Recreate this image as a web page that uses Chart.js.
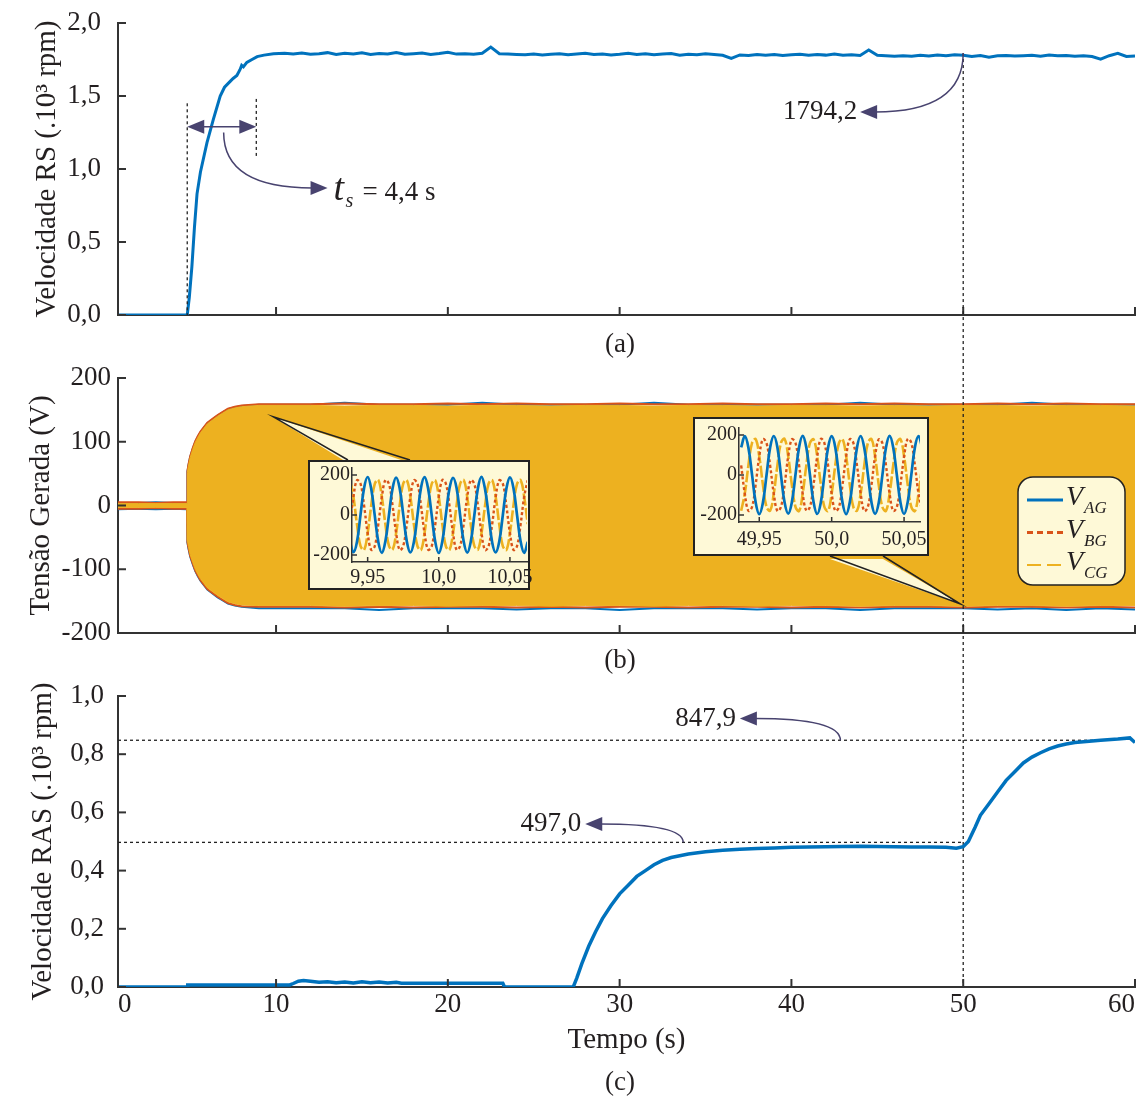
<!DOCTYPE html>
<html lang="pt">
<head>
<meta charset="utf-8">
<title>Velocidade RS, tensão gerada e velocidade RAS</title>
<script src="https://cdn.jsdelivr.net/npm/chart.js@4.4.1/dist/chart.umd.min.js"></script>
<style>
  html, body { margin: 0; padding: 0; background: #fff; }
  #page { position: relative; width: 1139px; height: 1101px; overflow: hidden; }
  #page canvas { position: absolute; }
  .box { position: absolute; box-sizing: border-box; border: 2px solid #222; background: #fef9d7; }
</style>
</head>
<body>
<div id="page">
  <canvas id="panelA" width="1139" height="360" style="left:0;top:0"></canvas>
  <canvas id="panelB" width="1139" height="320" style="left:0;top:360px"></canvas>
  <canvas id="panelC" width="1139" height="421" style="left:0;top:680px"></canvas>
  <div class="box" style="left:308px;top:460px;width:222px;height:130px"></div>
  <canvas id="zoom1" width="230" height="126" style="left:310px;top:462px"></canvas>
  <div class="box" style="left:693px;top:417px;width:236px;height:139px"></div>
  <canvas id="zoom2" width="246" height="135" style="left:695px;top:419px"></canvas>
</div>
<script>
// ---- data -------------------------------------------------------------

// shared time axis (s); the first tick sits at the axis start and reads "0"
const timeTickValues = [0.8, 10, 20, 30, 40, 50, 60];
const timeTickLabels = ['0', '10', '20', '30', '40', '50', '60'];

// (a) rotor speed RS, 10^3 rpm
const rsTicks = [0, 0.5, 1.0, 1.5, 2.0];
const rsTickLabels = ['0,0', '0,5', '1,0', '1,5', '2,0'];
const rsTime = [
  0.8, 4.83, 4.95, 5.1, 5.25, 5.4, 5.6, 5.98, 6.35, 6.75, 7.0, 7.33, 7.5, 7.72, 7.9, 8.0, 8.1, 8.3, 8.6, 8.9, 9.3, 9.85,
  10.5, 11, 11.5, 12, 12.5, 13, 13.5, 14, 14.5, 15, 15.5, 16, 16.5, 17, 17.5, 18, 18.5, 19, 19.5, 20,
  20.5, 21, 21.5, 22, 22.5, 23, 23.5, 24, 24.5, 25, 25.5, 26, 26.5, 27, 27.5, 28, 28.5, 29, 29.5, 30,
  30.5, 31, 31.5, 32, 32.5, 33, 33.5, 34, 34.5, 35, 35.5, 36, 36.5, 37, 37.5, 38, 38.5, 39, 39.5, 40,
  40.5, 41, 41.5, 42, 42.5, 43, 43.5, 44, 44.5, 45, 45.5, 46, 46.5, 47, 47.5, 48, 48.5, 49, 49.5, 50,
  50.5, 51, 51.5, 52, 52.5, 53, 53.5, 54, 54.5, 55, 55.5, 56, 56.5, 57, 57.5, 58, 58.5, 59, 59.5, 60
];
const rsSpeed = [
  0, 0, 0.12, 0.33, 0.6, 0.83, 0.98, 1.18, 1.34, 1.50, 1.56, 1.60, 1.62, 1.64, 1.68, 1.71, 1.70, 1.73, 1.75, 1.77, 1.78, 1.79,
  1.792, 1.788, 1.795, 1.786, 1.790, 1.797, 1.785, 1.792, 1.788, 1.796, 1.784, 1.791, 1.787, 1.798, 1.786, 1.790, 1.794, 1.785, 1.791, 1.799,
  1.787, 1.790, 1.786, 1.793, 1.835, 1.790, 1.787, 1.785, 1.782, 1.788, 1.781, 1.786, 1.790, 1.783, 1.787, 1.792, 1.784, 1.788, 1.781, 1.786,
  1.793, 1.784, 1.789, 1.782, 1.787, 1.791, 1.780, 1.786, 1.782, 1.789, 1.784, 1.779, 1.758, 1.781, 1.777, 1.784, 1.779, 1.785, 1.778, 1.782,
  1.786, 1.779, 1.784, 1.780, 1.787, 1.779, 1.783, 1.778, 1.815, 1.779, 1.776, 1.773, 1.775, 1.772, 1.779, 1.774, 1.781, 1.776, 1.783, 1.779,
  1.770, 1.777, 1.766, 1.775, 1.778, 1.774, 1.776, 1.779, 1.773, 1.781, 1.775, 1.778, 1.772, 1.776, 1.770, 1.752, 1.776, 1.792, 1.771, 1.774
];
const rsMarkValue = 1.7942;          // 1794,2 rpm read at 50 s
const settleStart = 4.83, settleEnd = 8.85;

// (b) generated voltage, envelope of the three phases (V)
const vTicks = [-200, -100, 0, 100, 200];
const vTickLabels = ['-200', '-100', '0', '100', '200'];
const envTime = [
  0.8, 2, 3, 4, 4.82, 4.84, 4.9, 5.0, 5.15, 5.3, 5.45, 5.6, 5.8, 6.0, 6.3, 6.6, 6.9, 7.2, 7.6, 8.0, 9, 10,
  12, 14, 16, 18, 20, 22, 24, 26, 28, 30, 32, 34, 36, 38, 40, 42, 44, 46, 48, 50, 52, 54, 56, 58, 60
];
const vcgEnvHi = [
  3, 3, 3, 3, 3, 52, 62, 75, 88, 99, 107, 114, 121, 128, 134, 140, 145, 150, 153, 155, 157, 157,
  157, 156, 157, 157, 156, 157, 157, 156, 157, 157, 156, 157, 157, 156, 157, 157, 156, 157, 156, 157, 157, 156, 157, 157, 156
];
const vcgEnvLo = [
  -3, -3, -3, -3, -3, -55, -64, -77, -89, -100, -108, -115, -122, -129, -135, -141, -146, -151, -154, -156, -157, -157,
  -157, -158, -157, -157, -158, -157, -157, -158, -157, -157, -158, -157, -157, -158, -157, -157, -158, -157, -157, -158, -157, -157, -158, -157, -157
];
const vbgEnvHi = [
  5, 5, 4, 5, 5, 54, 64, 77, 90, 101, 109, 116, 123, 130, 136, 142, 147, 152, 155, 157, 159, 159,
  159, 160, 159, 159, 160, 159, 160, 159, 159, 160, 159, 159, 160, 159, 159, 160, 159, 160, 159, 159, 160, 159, 160, 159, 159
];
const vbgEnvLo = [
  -5, -5, -4, -5, -5, -57, -66, -79, -91, -102, -110, -117, -124, -131, -137, -143, -148, -153, -156, -158, -159, -159,
  -159, -160, -159, -160, -159, -159, -160, -159, -160, -159, -159, -160, -159, -159, -160, -159, -160, -159, -159, -160, -159, -159, -160, -159, -160
];
const vagEnvHi = [
  4, 4, 5, 4, 4, 53, 63, 76, 89, 100, 108, 115, 122, 129, 135, 141, 146, 151, 154, 156, 158, 158,
  158, 161, 158, 158, 158, 161, 158, 158, 158, 158, 161, 158, 158, 158, 158, 158, 161, 158, 158, 158, 158, 161, 158, 158, 158
];
const vagEnvLo = [
  -6, -5, -6, -5, -6, -58, -67, -80, -92, -103, -111, -118, -125, -132, -138, -144, -149, -154, -157, -159, -161, -161,
  -161, -161, -164, -161, -161, -161, -163, -161, -161, -164, -161, -161, -161, -163, -161, -161, -164, -161, -161, -161, -163, -161, -164, -161, -163
];
const seriesSubscripts = ['AG', 'BG', 'CG'];

// (b) zoom windows, three phases (V)
const zoomVTicks = [-200, 0, 200];
const zoomVTickLabels = ['-200', '0', '200'];

const zoom1Ticks = [9.95, 10.0, 10.05];
const zoom1TickLabels = ['9,95', '10,0', '10,05'];
const zoom1Time = [
  9.9375, 9.94, 9.9425, 9.945, 9.9475, 9.95, 9.9525, 9.955, 9.9575, 9.96, 9.9625, 9.965, 9.9675, 9.97, 9.9725, 9.975, 9.9775,
  9.98, 9.9825, 9.985, 9.9875, 9.99, 9.9925, 9.995, 9.9975, 10.0, 10.0025, 10.005, 10.0075, 10.01, 10.0125, 10.015, 10.0175,
  10.02, 10.0225, 10.025, 10.0275, 10.03, 10.0325, 10.035, 10.0375, 10.04, 10.0425, 10.045, 10.0475, 10.05, 10.0525, 10.055,
  10.0575, 10.06, 10.0625
];
const zoom1Vag = [
  -132, -186, -134, 2, 135, 190, 131, -3, -135, -189, -130, 1, 133, 187, 134, 2, -131, -187, -135, -2, 136, 189, 132, 0,
  -134, -190, -131, 3, 132, 186, 135, -1, -133, -188, -132, 0, 134, 191, 130, 2, -136, -187, -133, -1, 131, 188, 134, 0,
  -132, -189, -134
];
const zoom1Vbg = [
  -47, 90, 174, 156, 47, -90, -174, -156, -46, 91, 175, 155, 48, -89, -175, -155, -47, 89, 173, 157, 46, -91, -173, -157,
  -48, 90, 175, 156, 47, -90, -174, -155, -46, 91, 174, 155, 48, -89, -175, -156, -47, 90, 173, 157, 46, -90, -174, -155,
  -47, 91, 174
];
const zoom1Vcg = [
  174, 90, -47, -156, -174, -90, 47, 156, 175, 89, -48, -155, -173, -91, 46, 157, 174, 91, -46, -156, -175, -89, 48, 155,
  173, 90, -47, -157, -174, -90, 47, 156, 175, 89, -48, -155, -173, -91, 46, 157, 174, 90, -47, -156, -175, -89, 48, 155,
  174, 91, -46
];

const zoom2Ticks = [49.95, 50.0, 50.05];
const zoom2TickLabels = ['49,95', '50,0', '50,05'];
const zoom2Time = [
  49.9375, 49.94, 49.9425, 49.945, 49.9475, 49.95, 49.9525, 49.955, 49.9575, 49.96, 49.9625, 49.965, 49.9675, 49.97, 49.9725,
  49.975, 49.9775, 49.98, 49.9825, 49.985, 49.9875, 49.99, 49.9925, 49.995, 49.9975, 50.0, 50.0025, 50.005, 50.0075, 50.01,
  50.0125, 50.015, 50.0175, 50.02, 50.0225, 50.025, 50.0275, 50.03, 50.0325, 50.035, 50.0375, 50.04, 50.0425, 50.045, 50.0475,
  50.05, 50.0525, 50.055, 50.0575, 50.06, 50.0625
];
const zoom2Vag = [
  138, 194, 136, 2, -137, -196, -139, -1, 137, 195, 139, -2, -138, -193, -136, 1, 139, 196, 137, 0, -136, -195, -138, 2,
  136, 194, 138, -1, -139, -196, -137, 0, 138, 195, 136, 2, -137, -194, -139, -2, 137, 196, 138, 0, -138, -195, -136, 1,
  139, 194, 137
];
const zoom2Vbg = [
  48, -93, -179, -160, -48, 93, 179, 160, 47, -92, -180, -159, -49, 94, 178, 161, 48, -94, -178, -160, -47, 92, 180, 159,
  49, -93, -179, -161, -48, 93, 179, 160, 47, -92, -180, -159, -49, 94, 178, 160, 48, -93, -179, -160, -48, 92, 180, 161,
  47, -94, -178
];
const zoom2Vcg = [
  -179, -93, 48, 160, 179, 93, -48, -160, -178, -94, 47, 161, 180, 92, -49, -159, -180, -92, 48, 160, 178, 94, -47, -160,
  -179, -93, 49, 159, 179, 93, -48, -161, -178, -94, 47, 160, 180, 92, -49, -160, -179, -93, 48, 161, 179, 94, -48, -159,
  -180, -92, 47
];

// (c) rotor speed RAS, 10^3 rpm
const rasTicks = [0, 0.2, 0.4, 0.6, 0.8, 1.0];
const rasTickLabels = ['0,0', '0,2', '0,4', '0,6', '0,8', '1,0'];
const rasTime = [
  0.8, 4.83, 4.86, 10.8, 11.0, 11.3, 11.6, 12.0, 12.5, 13.0, 13.5, 14.0, 14.5, 15.0, 15.5, 16.0, 16.5, 17.0, 17.3, 20.0, 23.2, 23.3,
  27.3, 27.5, 27.8, 28.2, 28.6, 29.0, 29.5, 30.0, 30.5, 31.0, 31.5, 32.0, 32.5, 33.0, 34.0, 35.0, 36.0, 37.0, 38.0, 39.0, 40.0,
  41.0, 42.0, 43.0, 44.0, 45.0, 46.0, 47.0, 48.0, 49.0, 49.6, 50.0, 50.3, 50.7, 51.0, 51.5, 52.0, 52.5, 53.0, 53.5, 54.0, 54.5,
  55.0, 55.5, 56.0, 56.5, 57.0, 58.0, 59.0, 59.7, 60.0
];
const rasSpeed = [
  0, 0, 0.007, 0.007, 0.012, 0.02, 0.022, 0.02, 0.016, 0.018, 0.015, 0.017, 0.014, 0.018, 0.015, 0.017, 0.014, 0.016, 0.013, 0.013, 0.013, 0,
  0, 0.03, 0.08, 0.14, 0.19, 0.235, 0.28, 0.32, 0.35, 0.38, 0.40, 0.42, 0.435, 0.445, 0.457, 0.465, 0.47, 0.473, 0.476, 0.478, 0.48,
  0.481, 0.482, 0.483, 0.484, 0.483, 0.482, 0.481, 0.481, 0.48, 0.477, 0.482, 0.5, 0.55, 0.59, 0.63, 0.67, 0.71, 0.74, 0.77, 0.79, 0.805,
  0.818, 0.828, 0.835, 0.84, 0.843, 0.848, 0.852, 0.856, 0.84
];
const rasMarkLow = 0.4970, rasMarkHigh = 0.8479;

// ---- style --------------------------------------------------------------

const BLUE = '#0072bd', RED = '#d95319', ORANGE = '#edb120';
const INK = '#231f20', AXIS = '#333333', ARROW = '#48436f', NOTE_BG = '#fef9d7';
const SERIF = "'Liberation Serif', 'Times New Roman', serif";
const TICK_PX = 27, TITLE_PX = 29;

Chart.defaults.font.family = SERIF;
Chart.defaults.color = INK;
Chart.defaults.animation = false;
Chart.defaults.events = [];
Chart.defaults.plugins.legend.display = false;
Chart.defaults.plugins.tooltip.enabled = false;
Chart.defaults.elements.point.radius = 0;

// tick marks pointing into the plot, as in the original figure
Chart.register({
  id: 'inwardTicks',
  defaults: { len: 8, width: 2 },
  afterDatasetsDraw(chart, args, opts) {
    const ctx = chart.ctx;
    ctx.save();
    ctx.strokeStyle = AXIS;
    ctx.lineWidth = opts.width;
    for (const id of ['x', 'y']) {
      const s = chart.scales[id];
      s.ticks.forEach(t => {
        const p = s.getPixelForValue(t.value);
        ctx.beginPath();
        if (s.isHorizontal()) { ctx.moveTo(p, s.top); ctx.lineTo(p, s.top - opts.len); }
        else { ctx.moveTo(s.right, p); ctx.lineTo(s.right + opts.len, p); }
        ctx.stroke();
      });
    }
    ctx.restore();
  }
});

const pts = (xs, ys) => xs.map((x, i) => ({ x, y: ys[i] }));
const X = (c, t) => c.scales.x.getPixelForValue(t);
const Y = (c, v) => c.scales.y.getPixelForValue(v);

function dotted(ctx, x0, y0, x1, y1) {
  ctx.save();
  ctx.strokeStyle = '#222';
  ctx.lineWidth = 1.3;
  ctx.setLineDash([3, 3]);
  ctx.beginPath(); ctx.moveTo(x0, y0); ctx.lineTo(x1, y1); ctx.stroke();
  ctx.restore();
}

function arrowHead(ctx, x, y, ang) {
  ctx.save();
  ctx.fillStyle = ARROW;
  ctx.translate(x, y); ctx.rotate(ang);
  ctx.beginPath(); ctx.moveTo(0, 0); ctx.lineTo(-17, -7); ctx.lineTo(-17, 7); ctx.closePath(); ctx.fill();
  ctx.restore();
}

// curved pointer: leaves `from` vertically, arrives horizontally at `tip`
function bentArrow(ctx, from, tip) {
  const dir = tip[0] > from[0] ? 1 : -1;
  const endX = tip[0] - dir * 15;
  ctx.save();
  ctx.strokeStyle = ARROW; ctx.lineWidth = 1.5;
  ctx.beginPath(); ctx.moveTo(from[0], from[1]);
  ctx.quadraticCurveTo(from[0], tip[1], endX, tip[1]);
  ctx.stroke();
  ctx.restore();
  arrowHead(ctx, tip[0], tip[1], dir > 0 ? 0 : Math.PI);
}

function label(ctx, str, x, y, font, align, base) {
  ctx.save();
  ctx.fillStyle = INK; ctx.font = font;
  ctx.textAlign = align || 'left'; ctx.textBaseline = base || 'alphabetic';
  ctx.fillText(str, x, y);
  ctx.restore();
}

function callout(ctx, tip, b1, b2) {
  ctx.save();
  ctx.beginPath(); ctx.moveTo(tip[0], tip[1]); ctx.lineTo(b1[0], b1[1] + 3); ctx.lineTo(b2[0], b2[1] + 3); ctx.closePath();
  ctx.fillStyle = NOTE_BG; ctx.fill();
  ctx.beginPath(); ctx.moveTo(b1[0], b1[1]); ctx.lineTo(tip[0], tip[1]); ctx.lineTo(b2[0], b2[1]);
  ctx.strokeStyle = '#222'; ctx.lineWidth = 1.5; ctx.stroke();
  ctx.restore();
}

function timeAxis(showLabels, height, title) {
  return {
    type: 'linear', min: timeTickValues[0], max: timeTickValues[timeTickValues.length - 1],
    afterBuildTicks: s => { s.ticks = timeTickValues.map(v => ({ value: v })); },
    afterFit: s => { s.height = height; },
    grid: { drawOnChartArea: false, drawTicks: false },
    border: { color: AXIS, width: 2 },
    ticks: {
      display: showLabels, padding: 2, align: 'inner', maxRotation: 0, autoSkip: false,
      font: { size: TICK_PX }, color: INK, callback: (v, i) => timeTickLabels[i]
    },
    title: title
      ? { display: true, text: title, font: { size: TITLE_PX }, color: INK, padding: { top: 0, bottom: 43 } }
      : { display: false }
  };
}

function valueAxis(min, max, ticks, labels, title, titlePad, labelPad) {
  return {
    type: 'linear', min, max,
    afterBuildTicks: s => { s.ticks = ticks.map(v => ({ value: v })); },
    afterFit: s => { s.width = 118; },
    grid: { drawOnChartArea: false, drawTicks: false },
    border: { color: AXIS, width: 2 },
    ticks: { padding: labelPad, autoSkip: false, font: { size: TICK_PX, lineHeight: 0.1 }, color: INK, callback: (v, i) => labels[i] },
    title: { display: true, text: title, font: { size: TITLE_PX }, color: INK, padding: { top: titlePad, bottom: 0 } }
  };
}

function caption(text, y) {
  return { id: 'caption', afterDraw: c => label(c.ctx, text, 620, y, `27px ${SERIF}`, 'center', 'middle') };
}

// ---- (a) -------------------------------------------------------------

new Chart(document.getElementById('panelA'), {
  type: 'line',
  data: { datasets: [{ data: pts(rsTime, rsSpeed), borderColor: BLUE, borderWidth: 3, tension: 0 }] },
  options: {
    responsive: false,
    layout: { padding: { top: 23, right: 4, left: 0, bottom: 0 } },
    scales: {
      x: timeAxis(false, 45),
      y: valueAxis(0, 2, rsTicks, rsTickLabels, 'Velocidade RS (.10³ rpm)', 30, 17)
    },
    plugins: { inwardTicks: { len: 8, width: 2 } }
  },
  plugins: [caption('(a)', 345), {
    id: 'notesA',
    afterDraw(c) {
      const ctx = c.ctx;
      const xa = X(c, settleStart), xb = X(c, settleEnd);
      dotted(ctx, xa, Y(c, 1.45), xa, Y(c, 0));
      dotted(ctx, xb, Y(c, 1.48), xb, Y(c, 1.08));
      const ya = Y(c, 1.29);
      ctx.save();
      ctx.strokeStyle = ARROW; ctx.lineWidth = 1.5;
      ctx.beginPath(); ctx.moveTo(xa + 12, ya); ctx.lineTo(xb - 12, ya); ctx.stroke();
      ctx.restore();
      arrowHead(ctx, xa, ya, Math.PI);
      arrowHead(ctx, xb, ya, 0);

      const tip = [X(c, 13.0), Y(c, 0.87)];
      bentArrow(ctx, [X(c, 6.95), Y(c, 1.25)], tip);
      label(ctx, 't', tip[0] + 6, tip[1] + 12, `italic 38px ${SERIF}`);
      label(ctx, 's', tip[0] + 18, tip[1] + 19, `italic 20px ${SERIF}`);
      label(ctx, '= 4,4 s', tip[0] + 35, tip[1] + 12, `27px ${SERIF}`);

      const x50 = X(c, 50);
      dotted(ctx, x50, Y(c, rsMarkValue), x50, c.height);
      const tip2 = [X(c, 44.0), Y(c, 1.39)];
      bentArrow(ctx, [x50, Y(c, rsMarkValue)], tip2);
      label(ctx, '1794,2', tip2[0] - 3, tip2[1], `27px ${SERIF}`, 'right', 'middle');
    }
  }]
});

// ---- (b) -------------------------------------------------------------

new Chart(document.getElementById('panelB'), {
  type: 'line',
  data: {
    datasets: [
      { data: pts(envTime, vcgEnvHi), borderColor: ORANGE, backgroundColor: ORANGE, borderWidth: 1, fill: '+1', order: 1 },
      { data: pts(envTime, vcgEnvLo), borderColor: ORANGE, borderWidth: 1, fill: false, order: 1 },
      { data: pts(envTime, vbgEnvHi), borderColor: RED, borderWidth: 2, fill: false, order: 2 },
      { data: pts(envTime, vbgEnvLo), borderColor: RED, borderWidth: 2, fill: false, order: 2 },
      { data: pts(envTime, vagEnvHi), borderColor: BLUE, borderWidth: 2, fill: false, order: 3 },
      { data: pts(envTime, vagEnvLo), borderColor: BLUE, borderWidth: 2, fill: false, order: 3 }
    ]
  },
  options: {
    responsive: false,
    layout: { padding: { top: 18, right: 4, left: 0, bottom: 0 } },
    scales: {
      x: timeAxis(false, 47),
      y: valueAxis(-200, 200, vTicks, vTickLabels, 'Tensão Gerada (V)', 24, 7)
    },
    plugins: { inwardTicks: { len: 8, width: 2 } }
  },
  plugins: [caption('(b)', 301), {
    id: 'notesB',
    afterDraw(c) {
      const ctx = c.ctx;
      const x50 = X(c, 50);
      dotted(ctx, x50, 0, x50, c.height);
      callout(ctx, [X(c, 9.84), Y(c, 139)], [348, 100], [410, 100]);
      callout(ctx, [X(c, 49.84), Y(c, -154.5)], [830, 196], [883, 196]);

      // legend box
      const bx = 1018, by = 117, bw = 107, bh = 108;
      ctx.save();
      ctx.beginPath(); ctx.roundRect(bx, by, bw, bh, 15);
      ctx.fillStyle = NOTE_BG; ctx.fill();
      ctx.lineWidth = 1.5; ctx.strokeStyle = '#222'; ctx.stroke();
      const styles = [[BLUE, [], 3], [RED, [6, 4], 3], [ORANGE, [14, 6], 2]];
      styles.forEach(([color, dash, width], i) => {
        const ly = by + 23 + i * 32.5;
        ctx.beginPath(); ctx.setLineDash(dash);
        ctx.strokeStyle = color; ctx.lineWidth = width;
        ctx.moveTo(bx + 9, ly); ctx.lineTo(bx + 45, ly); ctx.stroke();
        ctx.setLineDash([]);
        label(ctx, 'V', bx + 48, ly + 5, `italic 28px ${SERIF}`);
        label(ctx, seriesSubscripts[i], bx + 66, ly + 13, `italic 17px ${SERIF}`);
      });
      ctx.restore();
    }
  }]
});

// ---- (b) zoom windows --------------------------------------------------

function zoomChart(id, time, vag, vbg, vcg, min, max, ticks, tickLabels, box) {
  new Chart(document.getElementById(id), {
    type: 'line',
    data: {
      datasets: [
        { data: pts(time, vcg), borderColor: ORANGE, borderWidth: 2.6, borderDash: [12, 2.5], tension: 0.4, order: 3 },
        { data: pts(time, vbg), borderColor: RED, borderWidth: 2.4, borderDash: [3, 2.5], tension: 0.4, order: 2 },
        { data: pts(time, vag), borderColor: BLUE, borderWidth: 2.7, tension: 0.4, order: 1 }
      ]
    },
    options: {
      responsive: false,
      layout: { padding: { top: box.top, right: box.right, left: 0, bottom: 0 } },
      scales: {
        x: {
          type: 'linear', min, max,
          afterBuildTicks: s => { s.ticks = ticks.map(v => ({ value: v })); },
          afterFit: s => { s.height = box.xh; },
          grid: { drawOnChartArea: false, drawTicks: false },
          border: { color: AXIS, width: 1.5 },
          ticks: { padding: box.xpad, maxRotation: 0, autoSkip: false, font: { size: 20 }, color: INK, callback: (v, i) => tickLabels[i] }
        },
        y: {
          type: 'linear', min: -235, max: 235,
          afterBuildTicks: s => { s.ticks = zoomVTicks.map(v => ({ value: v })); },
          afterFit: s => { s.width = box.yw; },
          grid: { drawOnChartArea: false, drawTicks: false },
          border: { color: AXIS, width: 1.5 },
          ticks: { padding: 2, autoSkip: false, font: { size: 20, lineHeight: 0.1 }, color: INK, callback: (v, i) => zoomVTickLabels[i] }
        }
      },
      plugins: { inwardTicks: { len: 5, width: 1.5 } }
    }
  });
}

zoomChart('zoom1', zoom1Time, zoom1Vag, zoom1Vbg, zoom1Vcg, 9.939, 10.062, zoom1Ticks, zoom1TickLabels,
  { top: 6, right: 13, yw: 42, xh: 26, xpad: 4 });
zoomChart('zoom2', zoom2Time, zoom2Vag, zoom2Vbg, zoom2Vcg, 49.936, 50.061, zoom2Ticks, zoom2TickLabels,
  { top: 9, right: 21, yw: 44, xh: 32, xpad: 6 });

// ---- (c) -------------------------------------------------------------

new Chart(document.getElementById('panelC'), {
  type: 'line',
  data: { datasets: [{ data: pts(rasTime, rasSpeed), borderColor: BLUE, borderWidth: 3.5, tension: 0 }] },
  options: {
    responsive: false,
    layout: { padding: { top: 16, right: 4, left: 0, bottom: 0 } },
    scales: {
      x: timeAxis(true, 114, 'Tempo (s)'),
      y: valueAxis(0, 1, rasTicks, rasTickLabels, 'Velocidade RAS (.10³ rpm)', 26, 14)
    },
    plugins: { inwardTicks: { len: 8, width: 2 } }
  },
  plugins: [caption('(c)', 403), {
    id: 'notesC',
    beforeDatasetsDraw(c) {
      const ctx = c.ctx;
      const x0 = X(c, timeTickValues[0]);
      dotted(ctx, x0, Y(c, rasMarkHigh), X(c, 58.0), Y(c, rasMarkHigh));
      dotted(ctx, x0, Y(c, rasMarkLow), X(c, 50), Y(c, rasMarkLow));
      dotted(ctx, X(c, 50), 0, X(c, 50), Y(c, 0));
    },
    afterDraw(c) {
      const ctx = c.ctx;
      const tipHigh = [X(c, 37.0), Y(c, 0.923)];
      bentArrow(ctx, [X(c, 42.85), Y(c, rasMarkHigh)], tipHigh);
      label(ctx, '847,9', tipHigh[0] - 4, tipHigh[1], `27px ${SERIF}`, 'right', 'middle');
      const tipLow = [X(c, 28.0), Y(c, 0.56)];
      bentArrow(ctx, [X(c, 33.7), Y(c, rasMarkLow)], tipLow);
      label(ctx, '497,0', tipLow[0] - 4, tipLow[1], `27px ${SERIF}`, 'right', 'middle');
    }
  }]
});
</script>
</body>
</html>
